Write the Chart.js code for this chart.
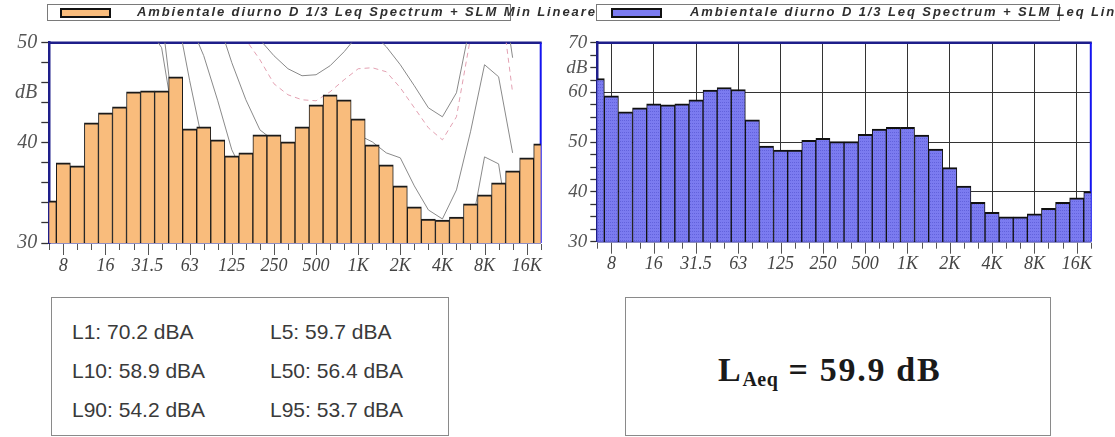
<!DOCTYPE html>
<html><head><meta charset="utf-8">
<script src="https://cdn.jsdelivr.net/npm/chart.js@4.4.0/dist/chart.umd.min.js"></script>
<style>
html,body{margin:0;padding:0;background:#fff;width:1115px;height:437px;overflow:hidden;position:relative;font-family:"Liberation Sans",Arial,sans-serif;}
.abs{position:absolute;}
.legbox{position:absolute;top:4px;height:17px;border:1px solid #7a7a7a;background:#fff;box-sizing:border-box;}
.swatch{position:absolute;top:8px;width:51px;height:10px;border:2px solid #111;box-sizing:border-box;}
.legtext{position:absolute;top:4px;white-space:nowrap;font:italic bold 13px "Liberation Sans",Arial,sans-serif;letter-spacing:1.9px;color:#2e2e2e;line-height:16px;}
.box{position:absolute;border:1px solid #8a8a8a;box-sizing:border-box;background:#fff;}
.stat{position:absolute;font:21px "Liberation Sans",Arial,sans-serif;color:#3a3a3a;line-height:24px;white-space:nowrap;}
.laeq{position:absolute;left:718px;top:350px;white-space:nowrap;font:bold 34px "Liberation Serif","Times New Roman",serif;color:#1a1a1a;line-height:40px;letter-spacing:1.7px;}
.laeq sub{font-size:20px;vertical-align:-5px;line-height:0;letter-spacing:0.5px;}
</style>
</head><body>
<div class="abs" style="left:0;top:0;width:560px;height:290px;"><canvas id="c1" width="560" height="290"></canvas></div>
<div class="abs" style="left:560px;top:0;width:555px;height:290px;"><canvas id="c2" width="555" height="290"></canvas></div>

<div class="legbox" style="left:47px;width:464px;"></div>
<div class="swatch" style="left:60px;background:#F9BC7C;"></div>
<div class="legtext" style="left:137px;">Ambientale diurno D 1/3 Leq Spectrum + SLM Min Lineare</div>
<div class="legbox" style="left:596px;width:464px;"></div>
<div class="swatch" style="left:611px;background:#7B7BF0;"></div>
<div class="legtext" style="left:690px;">Ambientale diurno D 1/3 Leq Spectrum + SLM Leq Lineare</div>

<div class="box" style="left:51px;top:297px;width:398px;height:139px;"></div>
<div class="stat" style="left:72px;top:320px;">L1: 70.2 dBA</div>
<div class="stat" style="left:270px;top:320px;">L5: 59.7 dBA</div>
<div class="stat" style="left:72px;top:359px;">L10: 58.9 dBA</div>
<div class="stat" style="left:270px;top:359px;">L50: 56.4 dBA</div>
<div class="stat" style="left:72px;top:398px;">L90: 54.2 dBA</div>
<div class="stat" style="left:270px;top:398px;">L95: 53.7 dBA</div>

<div class="box" style="left:625px;top:297px;width:426px;height:139px;"></div>
<div class="laeq">L<sub>Aeq</sub> = 59.9 dB</div>

<script>
// 1/3-octave band centres
const bands = ['6.3','8','10','12.5','16','20','25','31.5','40','50','63','80','100','125','160','200','250','315','400','500','630','800','1K','1.25K','1.6K','2K','2.5K','3.15K','4K','5K','6.3K','8K','10K','12.5K','16K','20K'];
const octaveLabels = ['8','16','31.5','63','125','250','500','1K','2K','4K','8K','16K'];

// Left chart: SLM Min Lineare spectrum (dB)
const minSpectrum = [34.2,38.0,37.7,42.0,43.0,43.6,45.1,45.2,45.2,46.6,41.4,41.6,40.3,38.7,39.0,40.8,40.8,40.1,41.6,43.8,44.8,44.3,42.4,39.8,37.8,35.7,33.6,32.4,32.3,32.6,33.9,34.8,36.0,37.2,38.5,39.9];
// Right chart: SLM Leq Lineare spectrum (dB)
const leqSpectrum = [62.8,59.3,56.1,56.9,57.7,57.5,57.7,58.5,60.5,61.0,60.6,54.5,49.2,48.4,48.4,50.4,50.8,50.1,50.1,51.6,52.65,53.0,53.0,51.45,48.6,44.9,41.2,37.9,35.9,35.0,35.0,35.6,36.7,37.9,38.8,40.05];

// Reference contour curves drawn on the left chart (dB)
const N = null;
const curveF = [N,N,N,N,N,N,68,60,52.8,41,36,33,31,29,N,N,N,N,N,N,N,N,N,N,N,N,N,N,N,N,N,N,N,N,N,N];
const curveE = [N,N,N,N,N,N,60,51.6,49.5,41,36,33,31,29.5,N,N,N,N,N,N,N,N,N,N,N,N,N,N,N,N,N,N,N,N,N,N];
const curveD = [N,N,N,N,N,N,N,N,62,53.5,46.2,39.5,36,33,31,29,N,N,N,N,N,N,N,N,N,N,N,N,N,N,N,N,N,N,N,N];
const curveC = [N,N,N,N,N,N,N,N,N,58,52,48.7,44.2,39.3,36.5,34.5,33,32,31.5,31.3,31.5,31.8,32,31,29.5,28,26,24,23,25,31,38.6,37.9,29,N,N];
const curveA = [N,N,N,N,N,N,N,N,N,N,62,57,52.3,48.0,44.3,41.3,40.2,39.6,39.5,39.6,39.9,40.3,40.8,40.1,39.0,38.5,35.7,33.3,32.4,35.3,41.1,47.8,46.6,39.0,N,N];
const curveB = [N,N,N,N,N,N,N,N,N,N,N,N,66,60,54,50.3,48.7,47.4,46.7,46.8,47.7,49.1,50.8,51.0,49.6,47.8,45.7,43.5,42.6,45.0,52,58,58,48.5,N,N];
const curveP = [N,N,N,N,N,N,N,N,N,N,N,N,62,56,50.3,48.3,45.9,44.8,44.3,44.2,45.1,46.3,47.4,47.5,47.1,45.5,43.5,41.5,40.3,42.6,50.5,57,56,45,N,N];

const leftTicks = [30,40,50];
const rightTicks = [30,40,50,60,70];

const serifTick = {family:'"Liberation Serif","Times New Roman",serif', style:'italic', size:18};
const navy = '#1e1e8a';

function dotPattern(){
  const c = document.createElement('canvas'); c.width = 4; c.height = 3;
  const g = c.getContext('2d');
  g.fillStyle = '#7B7BF0'; g.fillRect(0,0,4,3);
  g.fillStyle = '#6262dc'; g.fillRect(0,0,1,1); g.fillRect(2,0,1,1);
  return g.createPattern(c,'repeat');
}

const bandTicks = {
  id:'bandTicks',
  afterDraw(chart){
    const xs = chart.scales.x, ctx = chart.ctx;
    ctx.save(); ctx.strokeStyle = '#555'; ctx.lineWidth = 1;
    bands.forEach((b,i)=>{
      const x = Math.round(xs.getPixelForValue(i)) + 0.5;
      const len = octaveLabels.includes(b) ? 11 : 6;
      ctx.beginPath(); ctx.moveTo(x, xs.top+1); ctx.lineTo(x, xs.top+1+len); ctx.stroke();
    });
    ctx.restore();
  }
};
const frame = {
  id:'frame',
  beforeDatasetsDraw(chart){
    const a = chart.chartArea, ctx = chart.ctx;
    ctx.save();
    ctx.lineWidth = 2.5; ctx.strokeStyle = navy;
    ctx.beginPath(); ctx.moveTo(a.left, a.top); ctx.lineTo(a.right+1, a.top); ctx.stroke();
    ctx.strokeStyle = '#1414f0'; ctx.lineWidth = 2;
    ctx.beginPath(); ctx.moveTo(a.right, a.top); ctx.lineTo(a.right, a.bottom); ctx.stroke();
    ctx.restore();
  }
};

function xScale(gridOpts){
  return {
    type:'category', offset:false,
    afterFit(s){ s.height = 47; },
    grid: Object.assign({offset:false, drawTicks:false}, gridOpts),
    border:{color:navy, width:1.5},
    ticks:{autoSkip:false, maxRotation:0, padding:12, color:'#444', font:serifTick,
      callback(v,i){ const b = bands[i]; return octaveLabels.includes(b) ? b : ''; }}
  };
}
function curveDs(data, color, dash){
  return {type:'line', data, borderColor:color, borderWidth:1, borderDash:dash||[], pointRadius:0, fill:false, tension:0, spanGaps:false, clip:0, order:1};
}

Chart.defaults.animation = false;

new Chart(document.getElementById('c1'), {
  type:'bar',
  data:{ labels:bands, datasets:[
    {type:'bar', data:minSpectrum, backgroundColor:'#F9BC7C', borderColor:'#1a1a1a', borderWidth:{top:2,left:1,right:1,bottom:0}, borderSkipped:'start', barPercentage:1, categoryPercentage:1, clip:0, order:0},
    curveDs(curveF,'#8a8a8a'), curveDs(curveE,'#8a8a8a'), curveDs(curveD,'#8a8a8a'),
    curveDs(curveC,'#8a8a8a'), curveDs(curveA,'#8a8a8a'), curveDs(curveB,'#8a8a8a'),
    curveDs(curveP,'#e3a1b2',[5,4])
  ]},
  options:{
    responsive:false, animation:false,
    layout:{padding:{top:42.7, right:19.3, left:0, bottom:0}},
    plugins:{legend:{display:false}, tooltip:{enabled:false}},
    scales:{
      x: xScale({display:true, drawOnChartArea:false}),
      y:{ min:30, max:50,
        afterFit(s){ s.width = 49.3; },
        ticks:{stepSize:1, autoSkip:false, padding:4, color:'#555', font:Object.assign({},serifTick,{size:20}),
          callback(v){ return v===45 ? 'dB' : (leftTicks.includes(v) ? String(v) : ''); }},
        grid:{drawOnChartArea:false, tickLength:8, tickWidth:1.3, tickColor(c){ return c.tick && c.tick.value%2===0 ? '#333' : 'rgba(0,0,0,0)'; }},
        border:{color:navy, width:2.5}
      }
    }
  },
  plugins:[bandTicks, frame]
});

new Chart(document.getElementById('c2'), {
  type:'bar',
  data:{ labels:bands, datasets:[
    {type:'bar', data:leqSpectrum, backgroundColor:dotPattern(), borderColor:'#101010', borderWidth:{top:2,left:1,right:1,bottom:0}, borderSkipped:'start', barPercentage:1, categoryPercentage:1, clip:0, order:0}
  ]},
  options:{
    responsive:false, animation:false,
    layout:{padding:{top:42.7, right:24.2, left:0, bottom:0}},
    plugins:{legend:{display:false}, tooltip:{enabled:false}},
    scales:{
      x: Object.assign(xScale({display:true, drawOnChartArea:true, lineWidth:1,
            color(c){ const b = bands[c.index]; return octaveLabels.includes(b) ? '#333' : 'rgba(0,0,0,0)'; }}),
          {afterFit(s){ s.height = 48.3; }}),
      y:{ min:30, max:70,
        afterFit(s){ s.width = 37.3; },
        ticks:{stepSize:2.5, autoSkip:false, padding:3, color:'#555', font:Object.assign({},serifTick,{size:19}),
          callback(v){ return v===65 ? 'dB' : (rightTicks.includes(v) ? String(v) : ''); }},
        grid:{drawOnChartArea:true, tickLength:7, tickColor:'#333', tickWidth:1.3, lineWidth:1,
          color(c){ const v = c.tick && c.tick.value; return (v===40||v===50||v===60) ? '#333' : 'rgba(0,0,0,0)'; }},
        border:{color:navy, width:2.5}
      }
    }
  },
  plugins:[bandTicks, frame]
});
</script>
</body></html>
